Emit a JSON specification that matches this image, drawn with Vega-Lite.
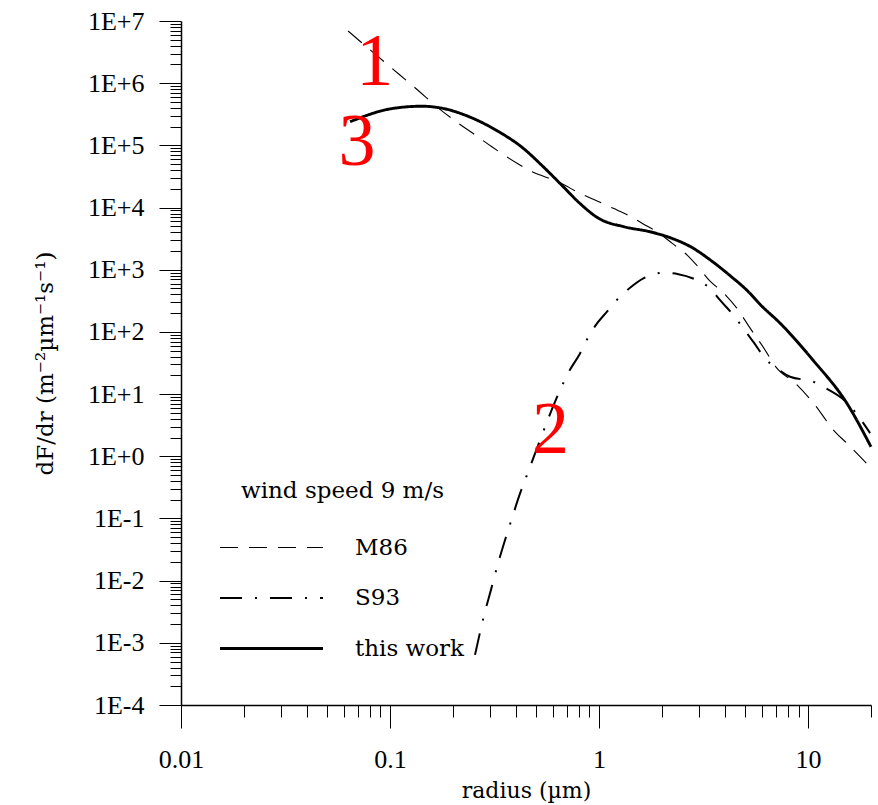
{
  "$schema": "https://vega.github.io/schema/vega-lite/v6.json",
  "width": 690,
  "height": 684,
  "autosize": {"type": "none"},
  "padding": {"left": 181, "top": 21, "right": 7, "bottom": 100},
  "background": "white",
  "config": {"view": {"stroke": null}, "axis": {"grid": false}},
  "datasets": {
    "curves": [
      {"series": "M86", "r": 0.063, "F": 6900000},
      {"series": "M86", "r": 0.098, "F": 1950000},
      {"series": "M86", "r": 0.136, "F": 770000},
      {"series": "M86", "r": 0.167, "F": 420000},
      {"series": "M86", "r": 0.213, "F": 225000},
      {"series": "M86", "r": 0.25, "F": 155000},
      {"series": "M86", "r": 0.307, "F": 95000},
      {"series": "M86", "r": 0.407, "F": 51000},
      {"series": "M86", "r": 0.479, "F": 37500},
      {"series": "M86", "r": 0.637, "F": 26000},
      {"series": "M86", "r": 0.812, "F": 16900},
      {"series": "M86", "r": 0.956, "F": 13200},
      {"series": "M86", "r": 1.17, "F": 9700},
      {"series": "M86", "r": 1.38, "F": 7500},
      {"series": "M86", "r": 1.62, "F": 5500},
      {"series": "M86", "r": 1.95, "F": 3800},
      {"series": "M86", "r": 2.24, "F": 2650},
      {"series": "M86", "r": 2.64, "F": 1720},
      {"series": "M86", "r": 2.98, "F": 1110},
      {"series": "M86", "r": 3.36, "F": 680},
      {"series": "M86", "r": 3.96, "F": 416},
      {"series": "M86", "r": 4.56, "F": 241},
      {"series": "M86", "r": 5.28, "F": 115},
      {"series": "M86", "r": 6.09, "F": 57.5},
      {"series": "M86", "r": 7.09, "F": 26.2},
      {"series": "M86", "r": 8.67, "F": 15},
      {"series": "M86", "r": 10.6, "F": 7.2},
      {"series": "M86", "r": 13.5, "F": 2.45},
      {"series": "M86", "r": 15.3, "F": 1.63},
      {"series": "M86", "r": 19.8, "F": 0.67},
      {"series": "S93", "r": 0.255, "F": 0.00064},
      {"series": "S93", "r": 0.282, "F": 0.0028},
      {"series": "S93", "r": 0.304, "F": 0.0071},
      {"series": "S93", "r": 0.327, "F": 0.0178},
      {"series": "S93", "r": 0.355, "F": 0.045},
      {"series": "S93", "r": 0.386, "F": 0.109},
      {"series": "S93", "r": 0.411, "F": 0.21},
      {"series": "S93", "r": 0.468, "F": 0.68},
      {"series": "S93", "r": 0.522, "F": 1.82},
      {"series": "S93", "r": 0.572, "F": 4.06},
      {"series": "S93", "r": 0.651, "F": 11.6},
      {"series": "S93", "r": 0.721, "F": 23.7},
      {"series": "S93", "r": 0.811, "F": 45},
      {"series": "S93", "r": 0.873, "F": 74},
      {"series": "S93", "r": 0.957, "F": 124},
      {"series": "S93", "r": 1.089, "F": 210},
      {"series": "S93", "r": 1.215, "F": 324},
      {"series": "S93", "r": 1.407, "F": 512},
      {"series": "S93", "r": 1.629, "F": 725},
      {"series": "S93", "r": 2.031, "F": 891},
      {"series": "S93", "r": 2.395, "F": 849},
      {"series": "S93", "r": 2.934, "F": 681},
      {"series": "S93", "r": 3.398, "F": 500},
      {"series": "S93", "r": 3.793, "F": 324},
      {"series": "S93", "r": 4.391, "F": 186},
      {"series": "S93", "r": 4.901, "F": 114},
      {"series": "S93", "r": 5.473, "F": 69},
      {"series": "S93", "r": 6.345, "F": 35},
      {"series": "S93", "r": 7.085, "F": 26},
      {"series": "S93", "r": 8.2, "F": 19},
      {"series": "S93", "r": 10.6, "F": 15.8},
      {"series": "S93", "r": 11.8, "F": 13.1},
      {"series": "S93", "r": 15.4, "F": 7.2},
      {"series": "S93", "r": 19.8, "F": 2.36},
      {"series": "this work", "r": 0.0644, "F": 240000},
      {"series": "this work", "r": 0.102, "F": 390000},
      {"series": "this work", "r": 0.142, "F": 426000},
      {"series": "this work", "r": 0.181, "F": 390000},
      {"series": "this work", "r": 0.24, "F": 287000},
      {"series": "this work", "r": 0.332, "F": 165000},
      {"series": "this work", "r": 0.425, "F": 95000},
      {"series": "this work", "r": 0.542, "F": 45000},
      {"series": "this work", "r": 0.663, "F": 22900},
      {"series": "this work", "r": 0.811, "F": 11600},
      {"series": "this work", "r": 0.996, "F": 6700},
      {"series": "this work", "r": 1.32, "F": 4900},
      {"series": "this work", "r": 1.76, "F": 4070},
      {"series": "this work", "r": 2.24, "F": 3180},
      {"series": "this work", "r": 2.75, "F": 2330},
      {"series": "this work", "r": 3.5, "F": 1340},
      {"series": "this work", "r": 4.3, "F": 770},
      {"series": "this work", "r": 5.09, "F": 470},
      {"series": "this work", "r": 5.94, "F": 270},
      {"series": "this work", "r": 7.35, "F": 138},
      {"series": "this work", "r": 10.57, "F": 35},
      {"series": "this work", "r": 15.3, "F": 7.2},
      {"series": "this work", "r": 20, "F": 1.42}
    ],
    "notes": [
      {"label": "1", "r": 0.0844, "F": 2140000},
      {"label": "3", "r": 0.0695, "F": 110000},
      {"label": "2", "r": 0.585, "F": 2.54}
    ]
  },
  "layer": [
    {
      "data": {"name": "curves"},
      "mark": {"type": "line", "interpolate": "monotone", "color": "black"},
      "encoding": {
        "x": {
          "field": "r", "type": "quantitative",
          "scale": {"type": "log", "domain": [0.01, 20], "nice": false},
          "axis": {
            "orient": "bottom", "values": [0.01, 0.1, 1, 10],
            "labelExpr": "'' + datum.value",
            "tickSize": 23, "tickWidth": 1, "tickColor": "black",
            "domainColor": "black", "domainWidth": 1.5,
            "labelPadding": 18, "labelFont": "Liberation Serif", "labelFontSize": 26,
            "labelColor": "black", "labelFlush": false, "labelOverlap": false,
            "title": "radius (µm)", "titleFont": "DejaVu Serif", "titleFontSize": 22,
            "titleFontWeight": "normal", "titleColor": "black",
            "titleY": 92, "titleBaseline": "alphabetic"
          }
        },
        "y": {
          "field": "F", "type": "quantitative",
          "scale": {"type": "log", "domain": [0.0001, 10000000], "nice": false},
          "axis": {
            "orient": "left",
            "values": [0.0001, 0.001, 0.01, 0.1, 1, 10, 100, 1000, 10000, 100000, 1000000, 10000000],
            "labelExpr": "'1E' + (datum.value >= 1 ? '+' : '-') + format(abs(round(log(datum.value) / LN10)), 'd')",
            "tickSize": 22, "tickWidth": 1, "tickColor": "black",
            "domainColor": "black", "domainWidth": 1.5,
            "labelPadding": 15, "labelFont": "Liberation Serif", "labelFontSize": 26,
            "labelColor": "black", "labelOverlap": false, "labelFlush": false,
            "title": "dF/dr (m⁻²µm⁻¹s⁻¹)", "titleFont": "DejaVu Serif", "titleFontSize": 23,
            "titleFontWeight": "normal", "titleColor": "black",
            "titleX": -129, "titleBaseline": "alphabetic", "titleAngle": -90
          }
        },
        "strokeDash": {
          "field": "series", "type": "nominal",
          "scale": {"domain": ["M86", "S93", "this work"], "range": [[18, 11], [22, 13, 2, 13], [1, 0]]},
          "legend": {
            "title": "wind speed 9 m/s", "orient": "none", "legendX": 60, "legendY": 459,
            "padding": 0, "symbolType": "M-2,0L2,0", "symbolSize": 2652,
            "symbolOffset": 3, "labelOffset": 56, "symbolStrokeColor": "black",
            "titleFont": "DejaVu Serif", "titleFontSize": 23, "titleFontWeight": "normal",
            "titleColor": "black", "titlePadding": 18, "titleLimit": 400, "labelLimit": 300,
            "labelFont": "DejaVu Serif", "labelFontSize": 23, "labelColor": "black",
            "rowPadding": 11
          }
        },
        "strokeWidth": {
          "field": "series", "type": "nominal",
          "scale": {"domain": ["M86", "S93", "this work"], "range": [1.1, 2.9]},
          "legend": {"title": "wind speed 9 m/s"}
        }
      }
    },
    {
      "data": {"name": "notes"},
      "mark": {"type": "text", "color": "#ff0000", "font": "Liberation Serif", "fontSize": 74, "align": "center", "baseline": "middle"},
      "encoding": {
        "x": {
          "field": "r", "type": "quantitative",
          "axis": {
            "orient": "bottom",
            "values": [0.02, 0.03, 0.04, 0.05, 0.06, 0.07, 0.08, 0.09, 0.2, 0.3, 0.4, 0.5, 0.6, 0.7, 0.8, 0.9, 2, 3, 4, 5, 6, 7, 8, 9, 20],
            "labels": false, "domain": false, "tickSize": 12, "tickColor": "black", "tickWidth": 1, "title": null
          }
        },
        "y": {
          "field": "F", "type": "quantitative",
          "axis": {
            "orient": "left",
            "values": [0.0002, 0.0003, 0.0004, 0.0005, 0.0006, 0.0007, 0.0008, 0.0009, 0.002, 0.003, 0.004, 0.005, 0.006, 0.007, 0.008, 0.009, 0.02, 0.03, 0.04, 0.05, 0.06, 0.07, 0.08, 0.09, 0.2, 0.3, 0.4, 0.5, 0.6, 0.7, 0.8, 0.9, 2, 3, 4, 5, 6, 7, 8, 9, 20, 30, 40, 50, 60, 70, 80, 90, 200, 300, 400, 500, 600, 700, 800, 900, 2000, 3000, 4000, 5000, 6000, 7000, 8000, 9000, 20000, 30000, 40000, 50000, 60000, 70000, 80000, 90000, 200000, 300000, 400000, 500000, 600000, 700000, 800000, 900000, 2000000, 3000000, 4000000, 5000000, 6000000, 7000000, 8000000, 9000000],
            "labels": false, "domain": false, "tickSize": 11, "tickColor": "black", "tickWidth": 1, "title": null
          }
        },
        "text": {"field": "label"}
      }
    }
  ],
  "resolve": {"axis": {"x": "independent", "y": "independent"}}
}
